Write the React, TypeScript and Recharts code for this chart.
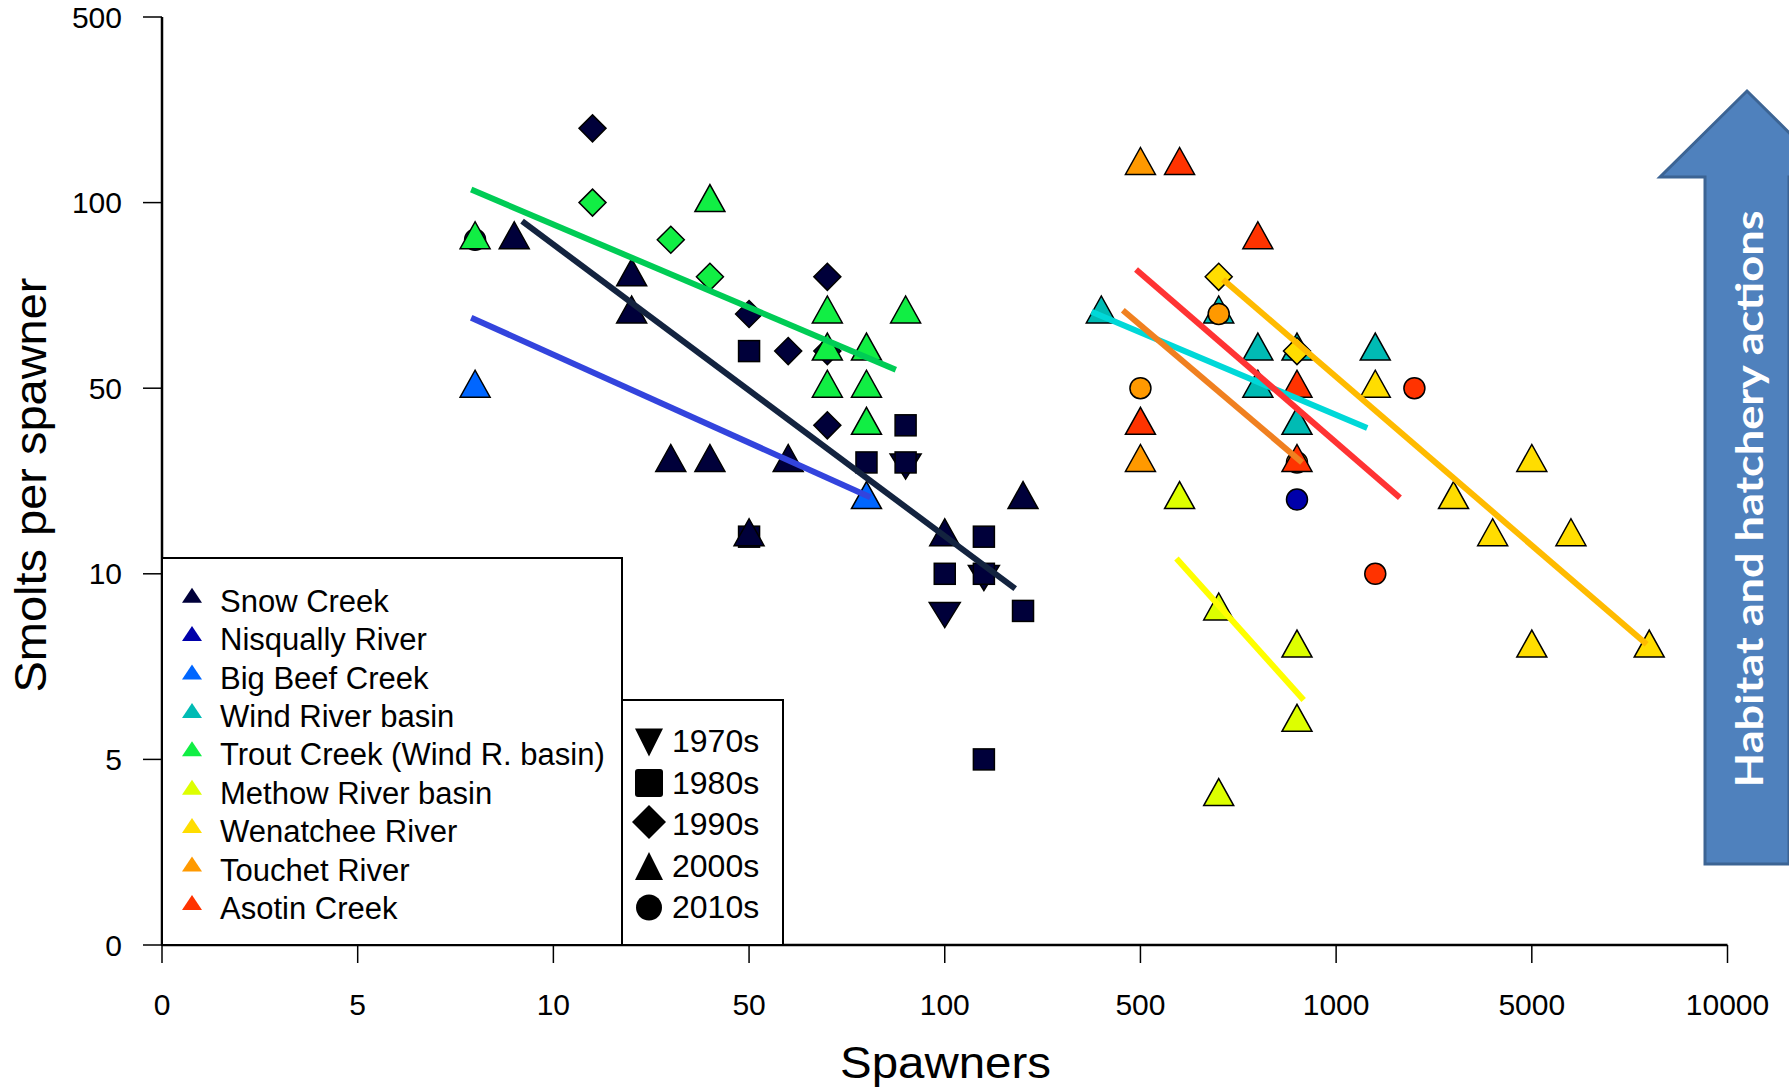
import { ScatterChart, Scatter, XAxis, YAxis, Legend, Customized } from "recharts";

// axis labels are not evenly spaced in value: every tick gets the same width
const X_TICKS = [0, 5, 10, 50, 100, 500, 1000, 5000, 10000];
const Y_TICKS = [0, 5, 10, 50, 100, 500];
const DECADES = ["1970s", "1980s", "1990s", "2000s", "2010s"];

// [spawners, smolts per spawner, decade]
type Pt = [number, number, string];

const snowCreek: Pt[] = [
  [90, 34, "1970s"], [180, 10, "1970s"], [100, 9, "1970s"],
  [50, 60, "1980s"], [90, 42, "1980s"], [80, 34, "1980s"], [90, 34, "1980s"], [50, 18, "1980s"], [180, 18, "1980s"],
  [100, 10, "1980s"], [180, 10, "1980s"], [260, 9, "1980s"], [180, 5, "1980s"],
  [18, 260, "1990s"], [50, 70, "1990s"], [60, 60, "1990s"], [70, 80, "1990s"], [70, 60, "1990s"], [70, 42, "1990s"],
  [9, 90, "2000s"], [26, 80, "2000s"], [26, 70, "2000s"], [34, 34, "2000s"], [42, 34, "2000s"],
  [60, 34, "2000s"], [50, 18, "2000s"], [100, 18, "2000s"], [260, 26, "2000s"],
];
const nisqually: Pt[] = [[8, 90, "2010s"], [900, 26, "2010s"]];
const bigBeef: Pt[] = [[8, 50, "2000s"], [80, 26, "2000s"]];
const windRiver: Pt[] = [
  [420, 70, "2000s"], [700, 70, "2000s"], [800, 60, "2000s"], [900, 60, "2000s"],
  [1800, 60, "2000s"], [800, 50, "2000s"], [900, 42, "2000s"],
];
const troutCreek: Pt[] = [
  [18, 100, "1990s"], [34, 90, "1990s"], [42, 80, "1990s"],
  [8, 90, "2000s"], [42, 100, "2000s"], [70, 70, "2000s"], [90, 70, "2000s"], [70, 60, "2000s"],
  [80, 60, "2000s"], [70, 50, "2000s"], [80, 50, "2000s"], [80, 42, "2000s"],
];
const methow: Pt[] = [[600, 26, "2000s"], [700, 9, "2000s"], [900, 8, "2000s"], [900, 6, "2000s"], [700, 4, "2000s"]];
const wenatchee: Pt[] = [
  [700, 80, "1990s"], [900, 60, "1990s"],
  [1800, 50, "2000s"], [3400, 26, "2000s"], [4200, 18, "2000s"], [5000, 34, "2000s"],
  [6000, 18, "2000s"], [5000, 8, "2000s"], [8000, 8, "2000s"],
];
const touchet: Pt[] = [[500, 180, "2000s"], [500, 34, "2000s"], [700, 70, "2010s"], [500, 50, "2010s"], [900, 34, "2010s"]];
const asotin: Pt[] = [
  [600, 180, "2000s"], [800, 90, "2000s"], [900, 50, "2000s"], [500, 42, "2000s"], [900, 34, "2000s"],
  [2600, 50, "2010s"], [1800, 10, "2010s"],
];

// fitted trend lines, start and end point [spawners, smolts per spawner]
const snowTrend = [[9.2, 95], [244, 9.6]];
const bigBeefTrend = [[7.9, 69], [81, 26.5]];
const troutTrend = [[7.9, 128], [87.5, 55]];
const windTrend = [[400, 70.6], [1636, 41.4]];
const touchetTrend = [[464, 71], [913, 34]];
const asotinTrend = [[491, 82], [2304, 26.4]];
const wenatcheeTrend = [[711, 79.3], [7935, 8.1]];
const methowTrend = [[592, 13.3], [917, 6.6]];

const rivers = [
  { name: "Snow Creek", color: "#00003a", data: snowCreek },
  { name: "Nisqually River", color: "#0000aa", data: nisqually },
  { name: "Big Beef Creek", color: "#0066ff", data: bigBeef },
  { name: "Wind River basin", color: "#00bbb4", data: windRiver },
  { name: "Trout Creek (Wind R. basin)", color: "#11ee44", data: troutCreek },
  { name: "Methow River basin", color: "#ddff00", data: methow },
  { name: "Wenatchee River", color: "#ffdd00", data: wenatchee },
  { name: "Touchet River", color: "#ff9900", data: touchet },
  { name: "Asotin Creek", color: "#ff3300", data: asotin },
];

const trends = [
  { key: "snow", color: "#13233f", pts: snowTrend },
  { key: "bigbeef", color: "#3344dd", pts: bigBeefTrend },
  { key: "trout", color: "#00cc55", pts: troutTrend },
  { key: "wind", color: "#00d8d8", pts: windTrend },
  { key: "touchet", color: "#f08020", pts: touchetTrend },
  { key: "asotin", color: "#ff3333", pts: asotinTrend },
  { key: "wenatchee", color: "#ffbb00", pts: wenatcheeTrend },
  { key: "methow", color: "#ffff00", pts: methowTrend },
];

const FONT = "'Liberation Sans', Arial, sans-serif";

// piecewise-linear position between the (evenly spaced) tick labels
function toPos(v: number, ticks: number[]) {
  for (let i = 0; i < ticks.length - 1; i++) {
    if (v <= ticks[i + 1]) return i + (v - ticks[i]) / (ticks[i + 1] - ticks[i]);
  }
  return ticks.length - 1;
}

function Marker({ cx, cy, decade, fill, stroke = "#000", centroid = true }: any) {
  const sw = 1.5;
  if (decade === "1970s") {
    const w = 31, h = 25;
    const top = centroid ? cy - h / 3 : cy - h / 2;
    return <polygon points={`${cx - w / 2},${top} ${cx + w / 2},${top} ${cx},${top + h}`} fill={fill} stroke={stroke} strokeWidth={sw} />;
  }
  if (decade === "1980s") {
    const s = 21;
    return <rect x={cx - s / 2} y={cy - s / 2} width={s} height={s} fill={fill} stroke={stroke} strokeWidth={sw} />;
  }
  if (decade === "1990s") {
    const r = 13.5;
    return <polygon points={`${cx},${cy - r} ${cx + r},${cy} ${cx},${cy + r} ${cx - r},${cy}`} fill={fill} stroke={stroke} strokeWidth={sw} />;
  }
  if (decade === "2000s") {
    const w = 30, h = 27;
    const bottom = centroid ? cy + h / 3 : cy + h / 2;
    return <polygon points={`${cx - w / 2},${bottom} ${cx + w / 2},${bottom} ${cx},${bottom - h}`} fill={fill} stroke={stroke} strokeWidth={sw} />;
  }
  return <circle cx={cx} cy={cy} r={10.5} fill={fill} stroke={stroke} strokeWidth={sw} />;
}

const renderLegend = () => (
  <svg width={800} height={950} style={{ display: "block", overflow: "visible" }}>
    <rect x={162} y={558} width={460} height={387} fill="#fff" stroke="#000" strokeWidth={2} />
    {rivers.map((r, i) => {
      const base = 611.7 + i * 38.4;
      return (
        <g key={r.name}>
          <polygon points={`182,${base - 9} 202,${base - 9} 192,${base - 24}`} fill={r.color} />
          <text x={220} y={base} fontSize={31} fontFamily={FONT} fill="#000">{r.name}</text>
        </g>
      );
    })}
    <rect x={622} y={700} width={161} height={245} fill="#fff" stroke="#000" strokeWidth={2} />
    {DECADES.map((d, i) => {
      const base = 752 + i * 41.5;
      const cy = d === "1990s" ? base - 13 : base - 10.5;
      return (
        <g key={d}>
          {d === "1980s" ? (
            <rect x={635} y={cy - 14} width={28} height={28} rx={3} fill="#000" />
          ) : d === "1990s" ? (
            <polygon points={`649,${cy - 17} 666,${cy} 649,${cy + 17} 632,${cy}`} fill="#000" />
          ) : d === "1970s" ? (
            <polygon points={`635,${cy - 13} 663,${cy - 13} 649,${cy + 15}`} fill="#000" />
          ) : d === "2000s" ? (
            <polygon points={`635,${cy + 14} 663,${cy + 14} 649,${cy - 14}`} fill="#000" />
          ) : (
            <circle cx={649} cy={cy} r={13} fill="#000" />
          )}
          <text x={672} y={base} fontSize={32} fontFamily={FONT} fill="#000">{d}</text>
        </g>
      );
    })}
  </svg>
);

function HabitatArrow() {
  return (
    <g>
      <polygon
        points="1747,91 1834,177 1789,177 1789,864 1705,864 1705,177 1660,177"
        fill="#4f81bd"
        stroke="#3c6494"
        strokeWidth={3}
      />
      <text
        transform="translate(1763,499) rotate(-90)"
        textAnchor="middle"
        fontSize={38}
        fontWeight="bold"
        fontFamily="Lato, 'Open Sans', sans-serif"
        fill="#fff"
        textLength={577}
        lengthAdjust="spacingAndGlyphs"
      >
        Habitat and hatchery actions
      </text>
    </g>
  );
}

export default function App() {
  return (
    <div style={{ position: "absolute", left: 0, top: 0, width: 1789, height: 1091, background: "#fff" }}>
      <ScatterChart width={1789} height={1091} margin={{ top: 17, right: 61.5, bottom: 0, left: 0 }}>
        <XAxis
          type="number"
          dataKey="x"
          domain={[0, 8]}
          ticks={X_TICKS.map((_, i) => i)}
          interval={0}
          height={146}
          tickSize={18}
          tickMargin={31}
          tickFormatter={(v: number) => String(X_TICKS[v])}
          axisLine={{ stroke: "#000", strokeWidth: 2.5 }}
          tickLine={{ stroke: "#000", strokeWidth: 1.5 }}
          tick={{ fontSize: 30, fill: "#000", fontFamily: FONT }}
          label={() => (
            <text x={945.5} y={1077.5} textAnchor="middle" fontSize={44} fontFamily={FONT} fill="#000"
              textLength={211} lengthAdjust="spacingAndGlyphs">
              Spawners
            </text>
          )}
        />
        <YAxis
          type="number"
          dataKey="y"
          domain={[0, 5]}
          ticks={Y_TICKS.map((_, i) => i)}
          interval={0}
          width={162}
          tickSize={19}
          tickMargin={21}
          tickFormatter={(v: number) => String(Y_TICKS[v])}
          axisLine={{ stroke: "#000", strokeWidth: 2.5 }}
          tickLine={{ stroke: "#000", strokeWidth: 1.5 }}
          tick={{ fontSize: 30, fill: "#000", fontFamily: FONT }}
          label={() => (
            <text transform="translate(45.5,485) rotate(-90)" textAnchor="middle" fontSize={44} fontFamily={FONT}
              fill="#000" textLength={415} lengthAdjust="spacingAndGlyphs">
              Smolts per spawner
            </text>
          )}
        />
        {rivers.map((r) => (
          <Scatter
            key={r.name}
            name={r.name}
            data={r.data
              .map(([s, v, d]) => ({ x: toPos(s, X_TICKS), y: toPos(v, Y_TICKS), spawners: s, smolts: v, decade: d }))
              .sort((a, b) => DECADES.indexOf(a.decade) - DECADES.indexOf(b.decade))}
            fill={r.color}
            isAnimationActive={false}
            shape={(p: any) => (
              <Marker cx={p.cx} cy={p.cy} decade={p.payload?.decade ?? p.decade} fill={r.color} />
            )}
          />
        ))}
        {trends.map((t) => (
          <Scatter
            key={t.key}
            data={t.pts.map(([s, v]) => ({ x: toPos(s, X_TICKS), y: toPos(v, Y_TICKS) }))}
            fill={t.color}
            line={{ stroke: t.color, strokeWidth: 6 }}
            shape={() => <g />}
            legendType="none"
            isAnimationActive={false}
          />
        ))}
        <Customized component={HabitatArrow} />
        <Legend
          layout="vertical"
          align="center"
          verticalAlign="middle"
          wrapperStyle={{ left: 0, top: 0, width: 800, height: 950, pointerEvents: "none" }}
          content={renderLegend}
        />
      </ScatterChart>
    </div>
  );
}
